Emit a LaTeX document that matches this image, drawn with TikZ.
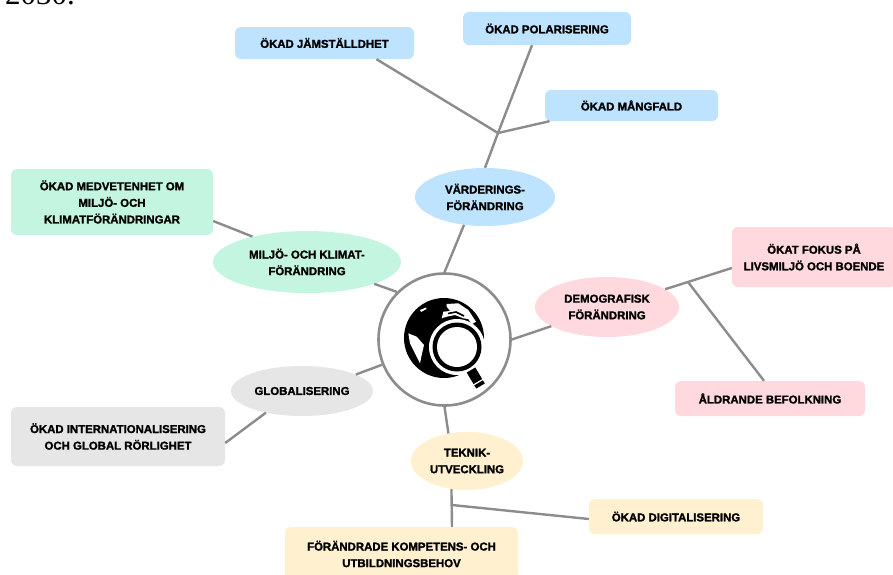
\documentclass[tikz,border=0pt]{standalone}
\usepackage{fontspec}
\setmainfont{Liberation Sans}[BoldFeatures={FakeBold=1.6}]
\newfontfamily\serifhead{Liberation Serif}
\usetikzlibrary{shapes.geometric}
\definecolor{cblue}{HTML}{BDE3FF}
\definecolor{cgreen}{HTML}{C3F5E0}
\definecolor{cpink}{HTML}{FFD9DE}
\definecolor{cgray}{HTML}{E6E6E6}
\definecolor{cyellow}{HTML}{FFF0CF}
\definecolor{cline}{HTML}{8C8C8C}
\tikzset{
 lab/.style={font=\fontsize{11.4}{16.6}\selectfont\bfseries,align=center,text=black,inner sep=0pt},
 leaf/.style={lab,rectangle,rounded corners=6pt,minimum width=#1},
 leafh/.style={minimum height=#1},
 oval/.style={lab,ellipse,inner sep=0pt,minimum width=#1},
 link/.style={draw=cline,line width=2.4pt},
}
\begin{document}
\begin{tikzpicture}[x=1pt,y=-1pt]
\clip (0,0) rectangle (893,574);
\fill[white] (0,0) rectangle (893,574);
\node[anchor=base west,inner sep=0pt,font=\fontsize{31}{31}\selectfont\serifhead] (year) at (5,4) {2030.};
% leaves
\node[leaf=179pt,leafh=32pt,fill=cblue] (jam) at (324.5,43) {ÖKAD JÄMSTÄLLDHET};
\node[leaf=168pt,leafh=33pt,fill=cblue] (pol) at (547,28.5) {ÖKAD POLARISERING};
\node[leaf=173pt,leafh=31pt,fill=cblue] (mang) at (631.5,105.5) {ÖKAD MÅNGFALD};
\node[leaf=202pt,leafh=66pt,fill=cgreen] (med) at (112,202) {ÖKAD MEDVETENHET OM\\MILJÖ- OCH\\KLIMATFÖRÄNDRINGAR};
\node[leaf=164pt,leafh=60pt,fill=cpink] (fok) at (814,257) {ÖKAT FOKUS PÅ\\LIVSMILJÖ OCH BOENDE};
\node[leaf=190pt,leafh=35pt,fill=cpink] (ald) at (770,398.5) {ÅLDRANDE BEFOLKNING};
\node[leaf=214pt,leafh=59pt,fill=cgray] (int) at (118,436.5) {ÖKAD INTERNATIONALISERING\\OCH GLOBAL RÖRLIGHET};
\node[leaf=174pt,leafh=35pt,fill=cyellow] (dig) at (676,516.5) {ÖKAD DIGITALISERING};
\node[leaf=233pt,leafh=54pt,fill=cyellow] (kom) at (401.5,554) {FÖRÄNDRADE KOMPETENS- OCH\\UTBILDNINGSBEHOV};
% ovals
\node[oval=140pt,minimum height=58pt,fill=cblue] (var) at (485,197) {VÄRDERINGS-\\FÖRÄNDRING};
\node[oval=188pt,minimum height=62pt,fill=cgreen] (mil) at (307,262) {MILJÖ- OCH KLIMAT-\\FÖRÄNDRING};
\node[oval=144pt,minimum height=60pt,fill=cpink] (dem) at (607,307) {DEMOGRAFISK\\FÖRÄNDRING};
\node[oval=142pt,minimum height=50pt,fill=cgray] (glo) at (302,391) {GLOBALISERING};
\node[oval=112pt,minimum height=58pt,fill=cyellow] (tek) at (467,461) {TEKNIK-\\UTVECKLING};
% hub
\node[circle,draw=cline,line width=2.6pt,fill=white,minimum size=132pt,inner sep=0pt] (hub) at (444.5,339.5) {};
% junctions
\coordinate (jv) at (498,133);
\coordinate (jd) at (688,282);
\coordinate (jt) at (452,505);
% connectors
\draw[link] (hub.90) -- (var.233);
\draw[link] (var.north) -- (jv);
\draw[link] (jv) -- ([xshift=-15pt]pol.south);
\draw[link] (jv) -- ([xshift=52pt]jam.south);
\draw[link] (jv) -- ([xshift=-82pt]mang.south);
\draw[link] (hub.135) -- (mil.342);
\draw[link] (mil.155) -- ([yshift=-19pt]med.east);
\draw[link] (hub.0) -- (dem.199);
\draw[link] (dem.17) -- ([yshift=-11pt]fok.west);
\draw[link] (jd) -- ([xshift=-6pt]ald.north);
\draw[link] (hub.202) -- (glo.17);
\draw[link] (glo.211) -- ([yshift=-6.5pt]int.east);
\draw[link] (hub.270) -- (tek.124);
\draw[link] (tek.241) -- ([xshift=50.5pt]kom.north);
\draw[link] (jt) -- ([yshift=-2.5pt]dig.west);
% globe and magnifier icon
\fill[black] (444,338) circle (40);
\fill[white] (446.7,304) -- (458.3,303.3) -- (468.3,310) -- (476,321.7) -- (471.7,324.3) -- (468.3,319) -- (463.3,318.3) -- (455,315) -- (446.7,316.7) -- (441.7,318.3) -- (443.3,311.7) -- (450,311) -- (446.7,306.7) -- cycle;
\draw[black,line width=1.6pt] (448,313.5) -- (456,312) -- (464,316);
\fill[white] (408.3,333.3) -- (416.7,336.7) -- (424,345) -- (421.7,355) -- (420,363.3) -- (415,353.3) -- (410,343.3) -- cycle;
\fill[white] (420,310) -- (426,307.5) -- (426.5,309) -- (421,312) -- cycle;
\fill[white] (457,347) circle (28);
\draw[black,line width=10pt] (471,370) -- (480.5,386);
\draw[white,line width=1.2pt] (472.5,385.5) -- (484.5,378.5);
\fill[black] (457,347) circle (24.5);
\fill[white] (457,347) circle (20);
\end{tikzpicture}
\end{document}
